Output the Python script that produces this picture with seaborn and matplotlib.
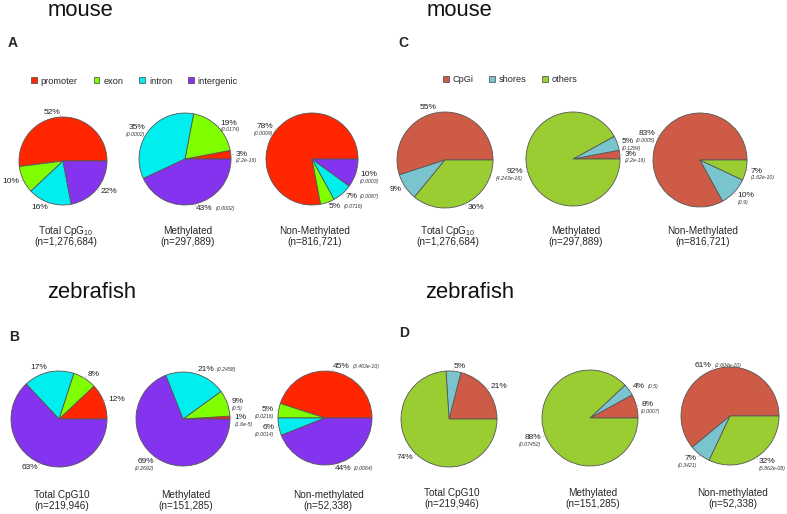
import numpy as np
import matplotlib.pyplot as plt
from matplotlib.patches import Patch
import seaborn as sns

sns.set_theme(style="white")
plt.rcParams['font.family'] = ['Liberation Sans', 'DejaVu Sans']
plt.rcParams['mathtext.default'] = 'regular'

# ---- data ----
region_names = ['promoter', 'exon', 'intron', 'intergenic']
region_colors = ['#FF2600', '#7FFF00', '#00EEEE', '#8433EE']
cpg_names = ['CpGi', 'shores', 'others']
cpg_colors = ['#CD5B45', '#7AC5CD', '#9ACD32']

mouse_region_total = [52, 10, 16, 22]
mouse_region_meth = [3, 19, 35, 43]
mouse_region_meth_p = ['(2.2e-16)', '(0.0174)', '(0.0002)', '(0.0002)']
mouse_region_nonmeth = [78, 5, 7, 10]
mouse_region_nonmeth_p = ['(0.0009)', '(0.0716)', '(0.0087)', '(0.0003)']

zf_region_total = [12, 8, 17, 63]
zf_region_meth = [1, 9, 21, 69]
zf_region_meth_p = ['(1.6e-5)', '(0.5)', '(0.2458)', '(0.2692)']
zf_region_nonmeth = [45, 5, 6, 44]
zf_region_nonmeth_p = ['(3.463e-10)', '(0.0216)', '(0.0014)', '(0.0064)']

mouse_cpg_total = [55, 9, 36]
mouse_cpg_meth = [3, 5, 92]
mouse_cpg_meth_p = ['(2.2e-16)', '(0.1284)', '(4.243e-16)']
mouse_cpg_nonmeth = [83, 10, 7]
mouse_cpg_nonmeth_p = ['(0.0005)', '(0.9)', '(1.62e-10)']

zf_cpg_total = [21, 5, 74]
zf_cpg_meth = [8, 4, 88]
zf_cpg_meth_p = ['(0.0007)', '(0.5)', '(0.07452)']
zf_cpg_nonmeth = [61, 7, 32]
zf_cpg_nonmeth_p = ['(2.604e-10)', '(0.3421)', '(5.862e-08)']

mouse_captions = ['Total CpG$_{10}$', 'Methylated', 'Non-Methylated']
mouse_counts = ['(n=1,276,684)', '(n=297,889)', '(n=816,721)']
zf_captions = ['Total CpG10', 'Methylated', 'Non-methylated']
zf_counts = ['(n=219,946)', '(n=151,285)', '(n=52,338)']

# ---- layout (pixels, top-left origin) ----
W, H = 787, 514
fig = plt.figure(figsize=(W / 100, H / 100), dpi=100)
ax = fig.add_axes([0, 0, 1, 1])


def Y(y):
    return H - y


def draw_pie(cx, cy, r, values, colors, pvals=None, place=None,
             caption=None, count=None, cap_y=(231, 242)):
    wedges, texts = ax.pie(values, colors=colors, center=(cx, Y(cy)), radius=r,
                           startangle=0, counterclock=True,
                           labels=[f'{v}%' for v in values], labeldistance=1.1,
                           textprops=dict(fontsize=6, color='#222222'),
                           wedgeprops=dict(edgecolor='#555555', linewidth=0.6),
                           frame=True)
    for w, t in zip(wedges, texts):
        a = np.deg2rad((w.theta1 + w.theta2) / 2)
        # label side depends on the pie's own centre, not the origin
        t.set_ha('right' if np.cos(a) < 0 else 'left')
        ax.plot([cx + r * np.cos(a), cx + 1.05 * r * np.cos(a)],
                [Y(cy) + r * np.sin(a), Y(cy) + 1.05 * r * np.sin(a)],
                color='#bbbbbb', lw=0.5)
    if pvals is not None:
        for t, p, pl in zip(texts, pvals, place):
            if pl == 'right':
                ax.annotate(p, xy=(1, 0.5), xycoords=t, xytext=(2, 0),
                            textcoords='offset points', ha='left', va='center',
                            fontsize=3.8, style='italic', color='#333333')
            else:
                hx = 1 if t.get_ha() == 'right' else 0
                ax.annotate(p, xy=(hx, 0), xycoords=t, xytext=(0, -0.5),
                            textcoords='offset points', ha=t.get_ha(), va='top',
                            fontsize=3.8, style='italic', color='#333333')
    ax.text(cx + 3, Y(cap_y[0]), caption, ha='center', va='center', fontsize=7.2)
    ax.text(cx + 3, Y(cap_y[1]), count, ha='center', va='center', fontsize=7.2)


# panel A
draw_pie(63, 161, 44, mouse_region_total, region_colors,
         caption=mouse_captions[0], count=mouse_counts[0])
draw_pie(185, 159, 46, mouse_region_meth, region_colors, mouse_region_meth_p,
         ['below', 'below', 'below', 'right'],
         caption=mouse_captions[1], count=mouse_counts[1])
draw_pie(312, 159, 46, mouse_region_nonmeth, region_colors, mouse_region_nonmeth_p,
         ['below', 'right', 'right', 'below'],
         caption=mouse_captions[2], count=mouse_counts[2])

# panel C
draw_pie(445, 160, 48, mouse_cpg_total, cpg_colors,
         caption=mouse_captions[0], count=mouse_counts[0])
draw_pie(573, 159, 47, mouse_cpg_meth, cpg_colors, mouse_cpg_meth_p,
         ['below', 'below', 'below'],
         caption=mouse_captions[1], count=mouse_counts[1])
draw_pie(700, 160, 47, mouse_cpg_nonmeth, cpg_colors, mouse_cpg_nonmeth_p,
         ['below', 'below', 'below'],
         caption=mouse_captions[2], count=mouse_counts[2])

# panel B
draw_pie(59, 419, 48, zf_region_total, region_colors,
         caption=zf_captions[0], count=zf_counts[0], cap_y=(495, 506))
draw_pie(183, 419, 47, zf_region_meth, region_colors, zf_region_meth_p,
         ['below', 'below', 'right', 'below'],
         caption=zf_captions[1], count=zf_counts[1], cap_y=(495, 506))
draw_pie(325, 418, 47, zf_region_nonmeth, region_colors, zf_region_nonmeth_p,
         ['right', 'below', 'below', 'right'],
         caption=zf_captions[2], count=zf_counts[2], cap_y=(495, 506))

# panel D
draw_pie(449, 419, 48, zf_cpg_total, cpg_colors,
         caption=zf_captions[0], count=zf_counts[0], cap_y=(493, 504))
draw_pie(590, 418, 48, zf_cpg_meth, cpg_colors, zf_cpg_meth_p,
         ['below', 'right', 'below'],
         caption=zf_captions[1], count=zf_counts[1], cap_y=(493, 504))
draw_pie(730, 416, 49, zf_cpg_nonmeth, cpg_colors, zf_cpg_nonmeth_p,
         ['right', 'below', 'below'],
         caption=zf_captions[2], count=zf_counts[2], cap_y=(493, 504))

# titles and panel letters
for x, y, s in [(48, 10, 'mouse'), (427, 10, 'mouse'),
                (47, 292, 'zebrafish'), (425, 292, 'zebrafish')]:
    ax.text(x, Y(y), s, ha='left', va='center', fontsize=15.8, color='#111111')
for x, y, s in [(8, 43, 'A'), (398, 43, 'C'), (9, 337, 'B'), (399, 333, 'D')]:
    ax.text(x, Y(y), s, ha='left', va='center', fontsize=10, fontweight='bold')

# legends
leg_kw = dict(frameon=False, fontsize=6.6, handlelength=0.6, handleheight=0.6,
              handletextpad=0.45, borderpad=0, borderaxespad=0)
h1 = [Patch(facecolor=c, edgecolor='#444444', linewidth=0.5) for c in region_colors]
fig.legend(h1, region_names, ncol=4, loc='center left', columnspacing=1.75,
           bbox_to_anchor=(31 / W, 1 - 81 / H), **leg_kw)
h2 = [Patch(facecolor=c, edgecolor='#444444', linewidth=0.5) for c in cpg_colors]
fig.legend(h2, cpg_names, ncol=3, loc='center left', columnspacing=1.7,
           bbox_to_anchor=(443 / W, 1 - 80 / H), **leg_kw)

ax.set_xlim(0, W)
ax.set_ylim(0, H)
ax.set_aspect('equal', adjustable='box')
ax.set_axis_off()

plt.savefig('out.png', dpi=100)
plt.close()
